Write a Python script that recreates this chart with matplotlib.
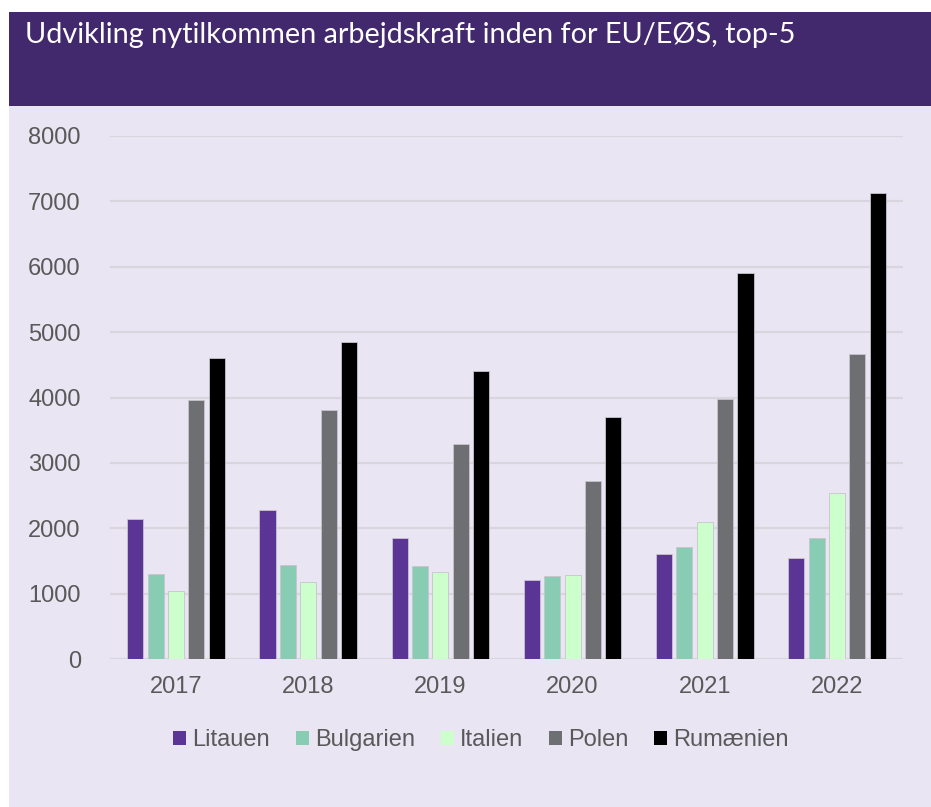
import numpy as np
import matplotlib.pyplot as plt
from matplotlib.patches import Rectangle

# data
years = ['2017', '2018', '2019', '2020', '2021', '2022']
lande = ['Litauen', 'Bulgarien', 'Italien', 'Polen', 'Rumænien']
litauen = [2140, 2280, 1850, 1210, 1610, 1540]
bulgarien = [1295, 1440, 1425, 1265, 1715, 1850]
italien = [1045, 1180, 1330, 1280, 2090, 2545]
polen = [3965, 3810, 3290, 2720, 3970, 4665]
rumaenien = [4605, 4850, 4405, 3700, 5910, 7135]
farver = ['#5B3595', '#88CDB3', '#CCFFCC', '#6D6F72', '#000000']

serier = [litauen, bulgarien, italien, polen, rumaenien]

bg = '#E9E5F3'
fig = plt.figure(figsize=(9.31, 8.07), dpi=100)
fig.patch.set_facecolor('white')
W, H = 931, 807

# baggrund og titelbånd
fig.patches.append(Rectangle((9 / W, 0), 1 - 9 / W, 1 - 12 / H, transform=fig.transFigure,
                             facecolor=bg, edgecolor='none', zorder=-2))
fig.patches.append(Rectangle((9 / W, 1 - 105.5 / H), 1 - 9 / W, (105.5 - 12) / H,
                             transform=fig.transFigure, facecolor='#42286C',
                             edgecolor='none', zorder=-1))
fig.text(25 / W, 1 - 42.5 / H, 'Udvikling nytilkommen arbejdskraft inden for EU/EØS, top-5',
         color='white', fontsize=20.8, family='Lato', ha='left', va='baseline')

ax = fig.add_axes([110 / W, 1 - 659 / H, (903 - 110) / W, (659 - 136) / H])
ax.set_facecolor('none')
ax.set_zorder(2)

x = np.arange(len(years))
step = 0.154
bredde = 0.122
for i, (navn, vals) in enumerate(zip(lande, serier)):
    ax.bar(x + (i - 2) * step, vals, bredde, color=farver[i], label=navn,
           edgecolor='#C8C4CE', linewidth=0.6, zorder=3)

ax.set_xlim(-0.5, 5.5)
ax.set_ylim(0, 8000)
ax.set_yticks(range(0, 8001, 1000))
ax.set_xticks(x)
ax.set_xticklabels(years)
ax.grid(axis='y', color='#D9D5DD', linewidth=1.6, zorder=0)
ax.set_axisbelow(True)
for s in ax.spines.values():
    s.set_visible(False)
ax.tick_params(length=0, labelsize=17, labelcolor='#595959')
ax.tick_params(axis='y', pad=21)
ax.tick_params(axis='x', pad=12)
for lab in ax.get_xticklabels() + ax.get_yticklabels():
    lab.set_family(['Liberation Sans', 'DejaVu Sans'])

leg = fig.legend(loc='center', bbox_to_anchor=(481 / W, 1 - 740 / H), ncol=5,
                 frameon=False, handlelength=0.55, handleheight=0.55,
                 handletextpad=0.25, columnspacing=1.1,
                 prop={'family': 'Liberation Sans', 'size': 17})
for t in leg.get_texts():
    t.set_color('#595959')
for h in leg.legend_handles:
    h.set_edgecolor('none')

fig.savefig('out.png', dpi=100, facecolor=fig.get_facecolor())
